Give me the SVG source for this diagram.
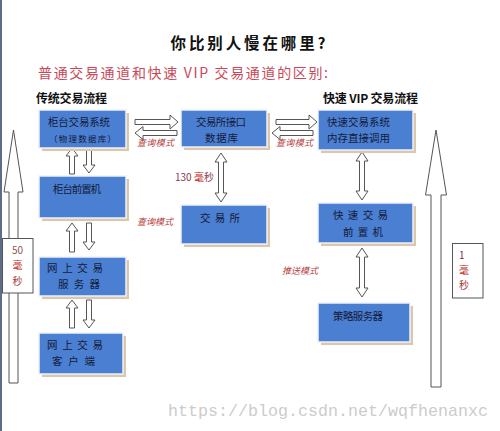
<svg xmlns="http://www.w3.org/2000/svg" width="500" height="431" viewBox="0 0 500 431">
<style>
.shadow{fill:#dcc6ae}
.box{fill:#4a7fd2;stroke:#eef2f8;stroke-width:1.5}
.bt{font-family:"Noto Sans CJK SC","Noto Sans",sans-serif;font-size:10.5px;fill:#141a38}
.ar{fill:#ffffff;stroke:#555555;stroke-width:1}
.lbl{font-family:"Noto Sans CJK SC",sans-serif;font-size:9px;fill:#b8403c;font-style:italic}
.hd{font-family:"Noto Sans CJK SC",sans-serif;font-size:12px;font-weight:bold;fill:#111111}
.ms{font-family:"Noto Sans CJK SC","Liberation Sans",sans-serif;font-size:10px}
</style>
<rect width="500" height="431" fill="#ffffff"/>
<line x1="1" y1="0" x2="1" y2="431" stroke="#5c6c8c" stroke-width="2"/>
<text x="248" y="49" text-anchor="middle" font-family="Noto Sans CJK SC,sans-serif" font-size="15.5" font-weight="bold" fill="#111111" textLength="155" lengthAdjust="spacing">你比别人慢在哪里?</text>
<text x="38" y="78" font-family="Noto Sans CJK SC,sans-serif" font-size="14" fill="#c8485a" textLength="290" lengthAdjust="spacing">普通交易通道和快速 VIP 交易通道的区别:</text>
<text x="36" y="103" class="hd" textLength="71" lengthAdjust="spacing">传统交易流程</text>
<text x="323" y="103" class="hd" textLength="95" lengthAdjust="spacing">快速 VIP 交易流程</text>

<g id="connectors">
<path class="ar" d="M135,119.5 H170 V115 L178,122 L170,129 V124.5 H135 Z"/>
<path class="ar" d="M177,130.5 H143 V126.5 L135,133 L143,139.5 V135.5 H177 Z"/>
<path class="ar" d="M276,119.5 H309 V115 L317,122 L309,129 V124.5 H276 Z"/>
<path class="ar" d="M313,130.5 H280 V126.5 L272,133 L280,139.5 V135.5 H313 Z"/>
<path class="ar" d="M69.5,174 V156 H66 L72,148 L78,156 H74.5 V174 Z"/>
<path class="ar" d="M86.5,147 V165 H83 L89,173 L95,165 H91.5 V147 Z"/>
<path class="ar" d="M69.5,252 V231 H66 L72,223 L78,231 H74.5 V252 Z"/>
<path class="ar" d="M86.5,223 V242 H83 L89,250 L95,242 H91.5 V223 Z"/>
<path class="ar" d="M69.5,328 V308 H66 L72,300 L78,308 H74.5 V328 Z"/>
<path class="ar" d="M86.5,300 V320 H83 L89,328 L95,320 H91.5 V300 Z"/>
<path class="ar" d="M221,153 L227,162 H223.5 V193 H227 L221,202 L215,193 H218.5 V162 H215 Z"/>
<path class="ar" d="M362,152 L368,161 H364.5 V191 H368 L362,200 L356,191 H359.5 V161 H356 Z"/>
<path class="ar" d="M362,248 L368,257 H364.5 V288 H368 L362,297 L356,288 H359.5 V257 H356 Z"/>
<path class="ar" d="M13.5,130 L23,192 H18 V383 H9 V192 H4 Z"/>
<path class="ar" d="M436,130 L446.5,195 H441 V387 H431 V195 H425.5 Z"/>
<text x="137" y="146" class="lbl" textLength="37" lengthAdjust="spacing">查询模式</text>
<text x="276" y="146" class="lbl" textLength="37" lengthAdjust="spacing">查询模式</text>
<text x="137" y="225" class="lbl" textLength="36" lengthAdjust="spacing">查询模式</text>
<text x="282" y="274" class="lbl" textLength="36" lengthAdjust="spacing">推送模式</text>
<text x="175" y="181" font-family="Noto Sans CJK SC,Liberation Sans,sans-serif" font-size="10" fill="#8a3a4a">130 <tspan fill="#c02020">毫</tspan>秒</text>
</g>

<g id="ms50">
<rect x="2.5" y="238.5" width="30.5" height="54.5" fill="#ffffff" stroke="#555555" stroke-width="1"/>
<text x="17.5" y="254" text-anchor="middle" class="ms" fill="#8a5a50">50</text>
<text x="17.5" y="269" text-anchor="middle" class="ms" fill="#c02828">毫</text>
<text x="17.5" y="285" text-anchor="middle" class="ms" fill="#a03838">秒</text>
</g>
<g id="ms1">
<rect x="452.5" y="243.5" width="30.5" height="54.5" fill="#ffffff" stroke="#555555" stroke-width="1"/>
<text x="459" y="259" class="ms" fill="#8a3030">1</text>
<text x="459" y="274" class="ms" fill="#c02828">毫</text>
<text x="459" y="289" class="ms" fill="#a03838">秒</text>
</g>

<g id="n1">
<rect class="shadow" x="42" y="113" width="87" height="38"/>
<rect class="box" x="39" y="110" width="87" height="38"/>
<text class="bt" x="48" y="126" textLength="62" lengthAdjust="spacing">柜台交易系统</text>
<text class="bt" x="49" y="142" style="font-size:8.5px" textLength="67" lengthAdjust="spacing">（物理数据库）</text>
</g>
<g id="n2">
<rect class="shadow" x="42" y="179" width="87" height="42"/>
<rect class="box" x="39" y="176" width="87" height="42"/>
<text class="bt" x="53" y="193" textLength="48" lengthAdjust="spacing">柜台前置机</text>
</g>
<g id="n3">
<rect class="shadow" x="42" y="260" width="87" height="39"/>
<rect class="box" x="39" y="257" width="87" height="39"/>
<text class="bt" x="47" y="272" textLength="56" lengthAdjust="spacing">网上交易</text>
<text class="bt" x="58" y="288" textLength="42" lengthAdjust="spacing">服务器</text>
</g>
<g id="n4">
<rect class="shadow" x="42" y="336" width="84" height="41"/>
<rect class="box" x="39" y="333" width="84" height="41"/>
<text class="bt" x="47" y="349" textLength="56" lengthAdjust="spacing">网上交易</text>
<text class="bt" x="52" y="365" textLength="43" lengthAdjust="spacing">客户端</text>
</g>
<g id="m1">
<rect class="shadow" x="184" y="113" width="86" height="37"/>
<rect class="box" x="181" y="110" width="86" height="37"/>
<text class="bt" x="196" y="126" textLength="50" lengthAdjust="spacing">交易所接口</text>
<text class="bt" x="205" y="142" textLength="33" lengthAdjust="spacing">数据库</text>
</g>
<g id="m2">
<rect class="shadow" x="184" y="208" width="86" height="39"/>
<rect class="box" x="181" y="205" width="86" height="39"/>
<text class="bt" x="200" y="222" textLength="40" lengthAdjust="spacing">交易所</text>
</g>
<g id="r1">
<rect class="shadow" x="321" y="113" width="95" height="40"/>
<rect class="box" x="318" y="110" width="95" height="40"/>
<text class="bt" x="327" y="126" textLength="63" lengthAdjust="spacing">快速交易系统</text>
<text class="bt" x="327" y="142" textLength="63" lengthAdjust="spacing">内存直接调用</text>
</g>
<g id="r2">
<rect class="shadow" x="321" y="206" width="95" height="40"/>
<rect class="box" x="318" y="203" width="95" height="40"/>
<text class="bt" x="333" y="219" textLength="55" lengthAdjust="spacing">快速交易</text>
<text class="bt" x="343" y="236" textLength="40" lengthAdjust="spacing">前置机</text>
</g>
<g id="r3">
<rect class="shadow" x="321" y="306" width="92" height="39"/>
<rect class="box" x="318" y="303" width="92" height="39"/>
<text class="bt" x="333" y="320" textLength="50" lengthAdjust="spacing">策略服务器</text>
</g>

<text x="168" y="416" font-family="Liberation Mono,monospace" font-size="17" fill="#cccccc" textLength="320" lengthAdjust="spacingAndGlyphs">https://blog.csdn.net/wqfhenanxc</text>
</svg>
